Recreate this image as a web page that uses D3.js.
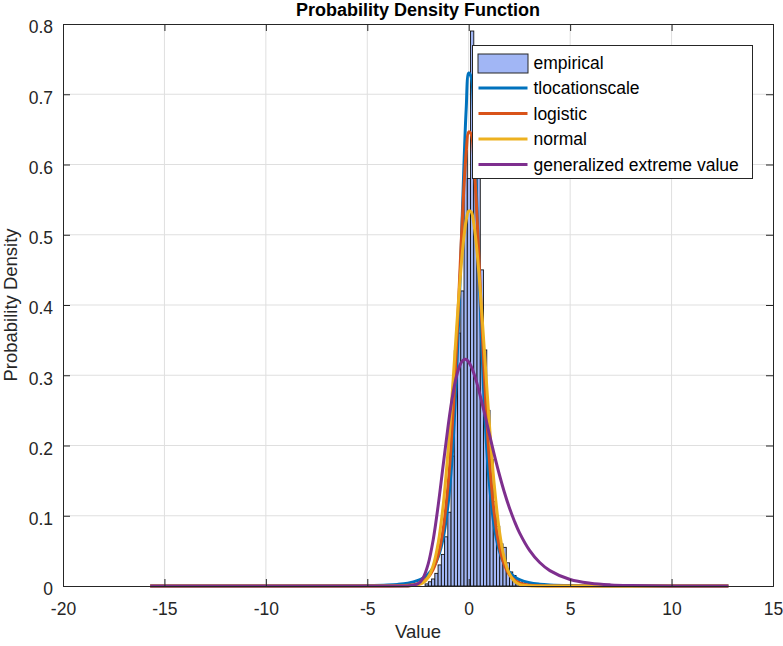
<!DOCTYPE html>
<html>
<head>
<meta charset="utf-8">
<script src="https://cdn.jsdelivr.net/npm/d3@7"></script>
<style>
  body { margin: 0; background: #fff; }
  svg { font-family: "Liberation Sans", Arial, sans-serif; }
</style>
</head>
<body>
<svg id="chart" width="783" height="646"></svg>
<script>
// histogram (empirical) – bin edges and density per bin
const binEdges = [-2.15, -1.99, -1.83, -1.67, -1.51, -1.35, -1.19, -1.03, -0.87, -0.71, -0.55,
  -0.39, -0.23, -0.07, 0.09, 0.25, 0.41, 0.57, 0.73, 0.89, 1.05, 1.21, 1.37, 1.53, 1.69, 1.85,
  2.01, 2.17, 2.33, 2.49, 2.65];
const binDensity = [0.003, 0.006, 0.01, 0.018, 0.03, 0.045, 0.07, 0.105, 0.185, 0.335,
  0.36, 0.42, 0.62, 0.58, 0.79, 0.58, 0.58, 0.45, 0.336, 0.25, 0.18, 0.12, 0.085, 0.06,
  0.055, 0.033, 0.02, 0.015, 0.01, 0.005];

// fitted pdf curves, sampled at xs
const xs = [-15.7, -6, -5, -4, -3.5, -3, -2.5, -2.25, -2, -1.75, -1.5, -1.25, -1, -0.875, -0.75,
  -0.625, -0.5, -0.375, -0.25, -0.125, 0, 0.125, 0.25, 0.375, 0.5, 0.625, 0.75, 0.875, 1,
  1.25, 1.5, 1.75, 2, 2.25, 2.5, 3, 3.5, 4, 5, 6, 7, 8, 10, 12.8];
const tlocationscale = [0.00001, 0.0003, 0.0006, 0.0014, 0.0023, 0.0041, 0.0079, 0.0113, 0.0169,
  0.026, 0.0416, 0.0695, 0.1205, 0.1604, 0.214, 0.2845, 0.3733, 0.4774, 0.586, 0.6786, 0.7302,
  0.7242, 0.6626, 0.5649, 0.4558, 0.3541, 0.2689, 0.202, 0.1514, 0.0862, 0.0508, 0.0312,
  0.02, 0.0132, 0.0091, 0.0046, 0.0026, 0.0016, 0.00065, 0.0003, 0.00017, 0.0001, 0.00004, 0.00002];
const logistic = [0, 0, 0.000005, 0.00007, 0.00026, 0.00094, 0.0034, 0.0066, 0.0125, 0.0238,
  0.0447, 0.083, 0.1496, 0.1976, 0.2568, 0.3268, 0.405, 0.4857, 0.5599, 0.6168, 0.6465, 0.6431,
  0.6073, 0.546, 0.4697, 0.389, 0.312, 0.244, 0.1871, 0.1055, 0.0574, 0.0306, 0.0162, 0.0086,
  0.0045, 0.0012, 0.0003, 0.0001, 0, 0, 0, 0, 0, 0];
const normal = [0, 0, 0, 0, 0, 0.0001, 0.0016, 0.0046, 0.0123, 0.0291, 0.0618, 0.1173, 0.1987,
  0.248, 0.301, 0.3553, 0.4077, 0.4549, 0.4934, 0.5205, 0.5338, 0.5323, 0.5161, 0.4866, 0.446,
  0.3975, 0.3445, 0.2902, 0.2378, 0.1467, 0.0809, 0.0399, 0.0175, 0.0069, 0.0024, 0.0002,
  0, 0, 0, 0, 0, 0, 0, 0];
const genExtreme = [0, 0, 0, 0, 0, 0.00007, 0.0032, 0.0115, 0.0312, 0.066, 0.1158, 0.174,
  0.2311, 0.2563, 0.2781, 0.2958, 0.309, 0.3177, 0.3221, 0.3224, 0.3189, 0.3123, 0.303, 0.2916,
  0.2785, 0.2643, 0.2493, 0.2339, 0.2184, 0.1881, 0.1598, 0.1342, 0.1118, 0.0925, 0.076,
  0.0507, 0.0334, 0.0219, 0.0092, 0.0039, 0.0016, 0.0007, 0.0001, 0.00001];

const xTicks = [-20, -15, -10, -5, 0, 5, 10, 15];
const yTicks = [0, 0.1, 0.2, 0.3, 0.4, 0.5, 0.6, 0.7, 0.8];

const series = [
  { name: "tlocationscale", values: tlocationscale, color: "#0072BD" },
  { name: "logistic", values: logistic, color: "#D95319" },
  { name: "normal", values: normal, color: "#EDB120" },
  { name: "generalized extreme value", values: genExtreme, color: "#7E2F8E" }
];

const margin = { top: 24, right: 10, bottom: 60, left: 63 };
const width = 783 - margin.left - margin.right;
const height = 646 - margin.top - margin.bottom;

const svg = d3.select("#chart");
const g = svg.append("g").attr("transform", `translate(${margin.left},${margin.top})`);

const x = d3.scaleLinear().domain([-20, 15]).range([0, width]);
const y = d3.scaleLinear().domain([0, 0.8]).range([height, 0]);

// grid
g.append("g").selectAll("line").data(xTicks.slice(1, -1)).join("line")
  .attr("x1", d => x(d)).attr("x2", d => x(d)).attr("y1", 0).attr("y2", height)
  .attr("stroke", "#dfdfdf").attr("stroke-width", 1);
g.append("g").selectAll("line").data(yTicks.slice(1, -1)).join("line")
  .attr("y1", d => y(d)).attr("y2", d => y(d)).attr("x1", 0).attr("x2", width)
  .attr("stroke", "#dfdfdf").attr("stroke-width", 1);

// histogram
const bins = binDensity.map((v, i) => ({ x0: binEdges[i], x1: binEdges[i + 1], v }));
g.append("g").selectAll("rect").data(bins).join("rect")
  .attr("x", d => x(d.x0)).attr("width", d => x(d.x1) - x(d.x0))
  .attr("y", d => y(d.v)).attr("height", d => y(0) - y(d.v))
  .attr("fill", "#a1b6f5").attr("stroke", "#111").attr("stroke-width", 0.9);

// pdf curves
const line = d3.line().x((d, i) => x(xs[i])).y(d => y(d)).curve(d3.curveCatmullRom.alpha(0.5));
g.append("g").selectAll("path").data(series).join("path")
  .attr("d", d => line(d.values))
  .attr("fill", "none").attr("stroke", d => d.color).attr("stroke-width", 3)
  .attr("stroke-linejoin", "round");

// axes (box with ticks on all sides, inside)
const axisColor = "#262626";
const xAxis = d3.axisBottom(x).tickValues(xTicks).tickSize(-7).tickPadding(17).tickFormat(d => String(d));
const yAxis = d3.axisLeft(y).tickValues(yTicks).tickSize(-7).tickPadding(10).tickFormat(d => d === 0 ? "0" : d3.format(".1f")(d));
g.append("g").attr("transform", `translate(0,${height})`).call(xAxis);
g.append("g").attr("class", "yaxis").call(yAxis);
g.append("g").call(d3.axisTop(x).tickValues(xTicks).tickSize(-7).tickFormat(""));
g.append("g").attr("transform", `translate(${width},0)`).call(d3.axisRight(y).tickValues(yTicks).tickSize(-7).tickFormat(""));
g.selectAll(".domain").attr("stroke", axisColor).attr("stroke-width", 1);
g.selectAll(".tick line").attr("stroke", axisColor);
g.selectAll(".tick text").attr("fill", "#262626").style("font-size", "17.5px")
  .style("font-family", "'Liberation Sans', Arial, sans-serif");
g.selectAll(".yaxis .tick text").attr("dy", "0.5em");

// title and labels
svg.append("text").attr("x", margin.left + width / 2).attr("y", 16)
  .attr("text-anchor", "middle").style("font-size", "18px").style("font-weight", "bold")
  .attr("fill", "#000").text("Probability Density Function");
svg.append("text").attr("x", margin.left + width / 2).attr("y", 638)
  .attr("text-anchor", "middle").style("font-size", "18.5px").attr("fill", "#262626").text("Value");
svg.append("text").attr("transform", `translate(17,${margin.top + height / 2}) rotate(-90)`)
  .attr("text-anchor", "middle").style("font-size", "18.5px").attr("fill", "#262626")
  .text("Probability Density");

// legend
const lg = svg.append("g").attr("transform", "translate(472.5,45.5)");
lg.append("rect").attr("width", 280).attr("height", 133)
  .attr("fill", "#fff").attr("stroke", "#262626").attr("stroke-width", 1);
const legendItems = [{ name: "empirical", patch: true }].concat(series);
const rowH = 25.5;
const items = lg.selectAll("g.item").data(legendItems).join("g")
  .attr("class", "item").attr("transform", (d, i) => `translate(0,${17 + i * rowH})`);
items.filter(d => d.patch).append("rect")
  .attr("x", 5.5).attr("y", -8.5).attr("width", 50).attr("height", 19)
  .attr("fill", "#a1b6f5").attr("stroke", "#262626").attr("stroke-width", 1);
items.filter(d => !d.patch).append("line")
  .attr("x1", 6).attr("x2", 55).attr("y1", 0).attr("y2", 0)
  .attr("stroke", d => d.color).attr("stroke-width", 3);
items.append("text").attr("x", 61).attr("y", 0).attr("dy", "0.35em")
  .style("font-size", "17.5px").attr("fill", "#000").text(d => d.name);
</script>
</body>
</html>
